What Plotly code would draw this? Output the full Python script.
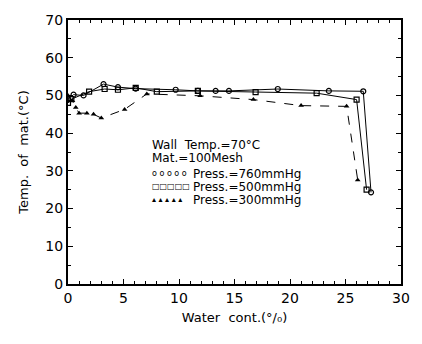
import plotly.graph_objects as go

# Water content (%) and material temperature (°C) for three pressures
x_760 = [0.0, 0.5, 1.4, 3.2, 4.5, 6.1, 9.7, 11.7, 13.3, 14.5, 18.9, 23.5, 26.6, 27.3]
y_760 = [49.0, 50.2, 50.0, 53.0, 52.2, 51.8, 51.5, 51.2, 51.2, 51.2, 51.7, 51.2, 51.1, 24.3]

x_500 = [0.0, 0.3, 1.9, 3.3, 4.5, 6.1, 8.0, 11.7, 16.9, 22.4, 26.0, 26.9]
y_500 = [48.0, 49.0, 51.0, 51.7, 51.5, 52.0, 51.0, 51.2, 50.9, 50.6, 48.9, 25.0]

x_300 = [0.0, 0.4, 0.7, 1.0, 1.7, 2.3, 3.0, 5.1, 7.1, 11.9, 16.7, 21.0, 25.1, 26.1]
y_300 = [50.0, 48.6, 46.8, 45.3, 45.3, 45.0, 44.0, 46.3, 50.4, 49.9, 48.9, 47.3, 47.1, 27.6]

x_ticks = [0, 5, 10, 15, 20, 25, 30]
y_ticks = [0, 10, 20, 30, 40, 50, 60, 70]

FONT = "DejaVu Sans"

fig = go.Figure()
fig.add_trace(go.Scatter(x=x_760, y=y_760, mode="lines+markers",
                         line=dict(color="black", width=1),
                         marker=dict(symbol="circle-open", size=5, color="black", line=dict(width=1.2)),
                         name="Press.=760mmHg", showlegend=False))
fig.add_trace(go.Scatter(x=x_500, y=y_500, mode="lines+markers",
                         line=dict(color="black", width=1),
                         marker=dict(symbol="square-open", size=5, color="black", line=dict(width=1.2)),
                         name="Press.=500mmHg", showlegend=False))
fig.add_trace(go.Scatter(x=x_300, y=y_300, mode="lines+markers",
                         line=dict(color="black", width=1, dash="dash"),
                         marker=dict(symbol="triangle-up", size=5, color="black"),
                         name="Press.=300mmHg", showlegend=False))

ann_font = dict(family=FONT, size=12, color="black")
texts = [
    (7.4, 36.8, "Wall  Temp.=70°C"),
    (7.4, 33.4, "Mat.=100Mesh"),
]
for xx, yy, t in texts:
    fig.add_annotation(x=xx, y=yy, text=t, showarrow=False, xanchor="left", yanchor="middle", font=ann_font)

legend_rows = [
    (29.2, "o o o o o", "Press.=760mmHg"),
    (25.8, "□□□□□", "Press.=500mmHg"),
    (22.4, "▴ ▴ ▴ ▴ ▴", "Press.=300mmHg"),
]
for yy, sym, t in legend_rows:
    fig.add_annotation(x=7.4, y=yy, text=sym, showarrow=False, xanchor="left", yanchor="middle",
                       font=dict(family=FONT, size=8, color="black"))
    fig.add_annotation(x=11.1, y=yy, text=t, showarrow=False, xanchor="left", yanchor="middle", font=ann_font)

axis_common = dict(
    showline=True, linecolor="black", linewidth=2, mirror="ticks",
    ticks="inside", ticklen=5, tickwidth=1, tickcolor="black",
    showgrid=False, zeroline=False,
    tickfont=dict(family=FONT, size=14, color="black"),
)

fig.update_xaxes(range=[0, 30], tickvals=x_ticks, ticktext=[str(v) for v in x_ticks],
                 minor=dict(ticks="inside", ticklen=3, dtick=1, tickcolor="black"),
                 title=dict(text="Water  cont.(°/₀)", font=dict(family=FONT, size=13, color="black"), standoff=8),
                 **axis_common)
fig.update_yaxes(range=[0, 70], tickvals=y_ticks, ticktext=[str(v) for v in y_ticks],
                 minor=dict(ticks="inside", ticklen=3, dtick=5, tickcolor="black"),
                 title=dict(text="Temp.  of  mat.(°C)", font=dict(family=FONT, size=13, color="black"), standoff=14),
                 **axis_common)

fig.update_layout(width=422, height=344, margin=dict(l=68, r=13, t=12, b=60),
                  paper_bgcolor="white", plot_bgcolor="white")

fig.write_html("out.html")
